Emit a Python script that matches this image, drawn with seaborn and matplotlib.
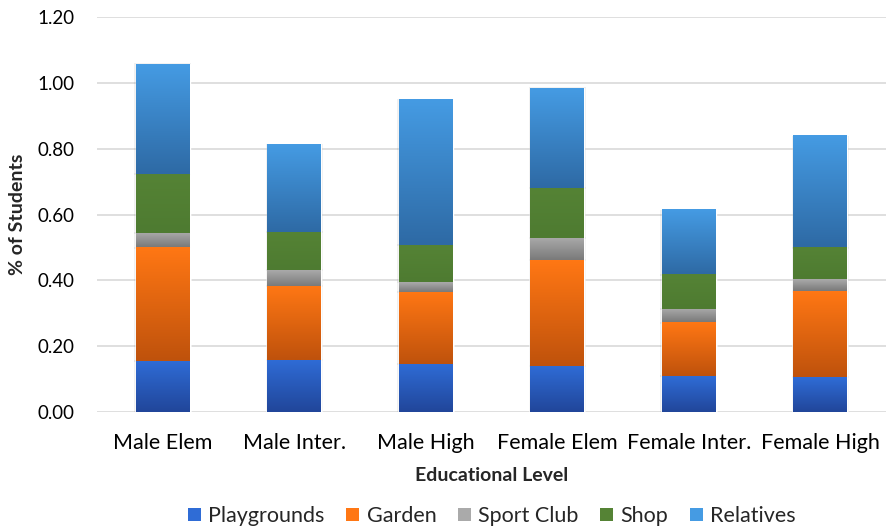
import numpy as np
import pandas as pd
import matplotlib
matplotlib.use("Agg")
import matplotlib.pyplot as plt
from matplotlib.colors import to_rgb
from matplotlib.patches import Patch
import seaborn as sns

# Share of students by place, per gender / school level
categories = ["Male Elem", "Male Inter.", "Male High",
              "Female Elem", "Female Inter.", "Female High"]
series = ["Playgrounds", "Garden", "Sport Club", "Shop", "Relatives"]
playgrounds = [0.155, 0.158, 0.147, 0.141, 0.109, 0.106]
garden      = [0.345, 0.226, 0.219, 0.321, 0.163, 0.261]
sport_club  = [0.044, 0.047, 0.030, 0.067, 0.041, 0.036]
shop        = [0.179, 0.117, 0.111, 0.152, 0.105, 0.097]
relatives   = [0.334, 0.265, 0.443, 0.303, 0.195, 0.338]
yticks = [0.0, 0.2, 0.4, 0.6, 0.8, 1.0, 1.2]

values = [playgrounds, garden, sport_club, shop, relatives]
# (top colour, bottom colour) of each vertical gradient fill
grad = {
    "Playgrounds": ("#2F6CD6", "#21469A"),
    "Garden": ("#FF7714", "#BF520C"),
    "Sport Club": ("#AAAAAA", "#7A7A7A"),
    "Shop": ("#558335", "#4E7B31"),
    "Relatives": ("#459BE3", "#2E6AA5"),
}

sns.set_theme(style="white")
plt.rcParams["font.family"] = ["Lato", "DejaVu Sans"]

fig = plt.figure(figsize=(8.87, 5.29), dpi=100)
ax = fig.add_axes([97 / 887, 1 - 412 / 529, 789 / 887, 395 / 529])

df = pd.DataFrame({"Level": categories})
cum = np.zeros(len(categories))
tops = []
for name, vals in zip(series, values):
    cum = cum + np.array(vals)
    df[name] = cum.copy()
    tops.append(cum.copy())

# Draw cumulative totals from the tallest layer down so each segment shows
geom = {}
for i in reversed(range(len(series))):
    name = series[i]
    before = len(ax.patches)
    sns.barplot(data=df, x="Level", y=name, color=grad[name][0],
                width=0.41, ax=ax, saturation=1, zorder=2)
    geom[name] = ax.patches[before:]

# Replace flat fills with top-to-bottom gradients per segment
n = 64
for i, name in enumerate(series):
    c_top = np.array(to_rgb(grad[name][0]))
    c_bot = np.array(to_rgb(grad[name][1]))
    t = np.linspace(0, 1, n)[:, None]
    img = (c_bot * (1 - t) + c_top * t)[:, None, :]
    for j, p in enumerate(geom[name]):
        x0 = p.get_x()
        x1 = x0 + p.get_width()
        y1 = tops[i][j]
        y0 = tops[i - 1][j] if i > 0 else 0.0
        ax.imshow(img, extent=(x0, x1, y0, y1), origin="lower",
                  aspect="auto", zorder=3, interpolation="bilinear")
        # soft shadow along the bar edges
        ax.add_patch(plt.Rectangle((x0 - 0.012, y0 - 0.004),
                                   x1 - x0 + 0.024, y1 - y0 + 0.006,
                                   facecolor="#000000", alpha=0.06,
                                   edgecolor="none", zorder=1.5))

ax.set_xlim(-0.5, len(categories) - 0.5)
ax.set_ylim(0, 1.2)
ax.set_yticks(yticks, [f"{v:.2f}" for v in yticks])
ax.yaxis.grid(True, color="#D9D9D9", lw=1.2)
ax.set_axisbelow(True)
for s in ax.spines.values():
    s.set_visible(False)
ax.tick_params(axis="both", length=0, colors="#000000")
ax.tick_params(axis="y", labelsize=13.5, pad=16)
ax.tick_params(axis="x", labelsize=15.5, pad=15)
ax.set_xlabel("Educational Level", fontsize=14, fontweight="bold", labelpad=10)
ax.set_ylabel("% of Students", fontsize=14, fontweight="bold", va="center")
ax.yaxis.set_label_coords(-79 / 789, 0.5)

handles = [Patch(facecolor=grad[s][0], edgecolor="none", label=s) for s in series]
fig.legend(handles=handles, loc="center", bbox_to_anchor=(492 / 887, 1 - 516 / 529),
           ncol=5, frameon=False, fontsize=15.5, handlelength=0.6,
           handleheight=0.6, handletextpad=0.35, columnspacing=1.0)

fig.savefig("out.png", dpi=100)
